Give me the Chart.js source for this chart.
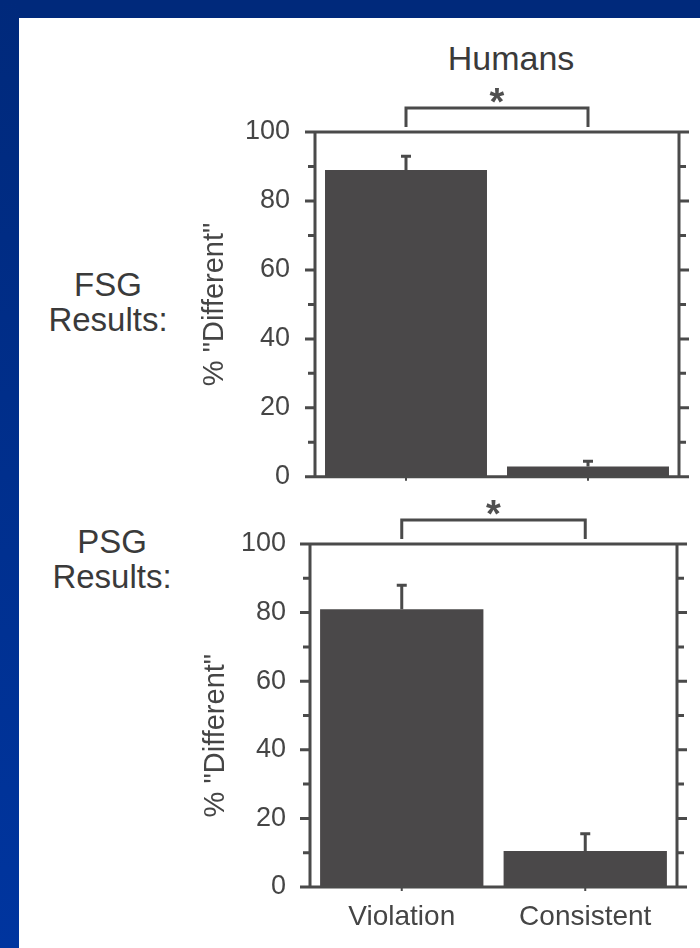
<!DOCTYPE html>
<html>
<head>
<meta charset="utf-8">
<script src="https://cdn.jsdelivr.net/npm/chart.js@4/dist/chart.umd.min.js"></script>
<style>
  html, body { margin: 0; padding: 0; }
  body { width: 700px; height: 948px; position: relative; overflow: hidden; background: #ffffff;
         font-family: "Liberation Sans", Arial, sans-serif; }
  #frameTop { position: absolute; left: 0; top: 0; width: 700px; height: 18px; background: #00297b; }
  #frameLeft { position: absolute; left: 0; top: 0; width: 19px; height: 948px;
               background: linear-gradient(#00297b, #00359f); }
  .lbl { position: absolute; color: #3a3a3a; text-align: center; white-space: nowrap; }
  #c1 { position: absolute; left: 0; top: 0; }
  #c2 { position: absolute; left: 0; top: 490px; }
</style>
</head>
<body>
<div id="frameTop"></div>
<div id="frameLeft"></div>
<div class="lbl" style="left:411px; top:41px; width:200px; font-size:34px; line-height:34px;">Humans</div>
<div class="lbl" style="left:8px; top:267px; width:200px; font-size:33px; line-height:35px;">FSG<br>Results:</div>
<div class="lbl" style="left:12px; top:524px; width:200px; font-size:33px; line-height:35px;">PSG<br>Results:</div>
<canvas id="c1" width="700" height="518"></canvas>
<canvas id="c2" width="700" height="458"></canvas>
<script>
// ---- data ----
const categories = ['Violation', 'Consistent'];
const fsgValues = [89, 3];
const fsgErrors = [4, 1.5];
const psgValues = [81, 10.5];
const psgErrors = [7, 5];
const yTitle = '% "Different"';
const significance = '*';

const FONT = '"Liberation Sans", Arial, sans-serif';
const INK = '#4a4a4a';
const BAR = '#4a4849';
const TEXT = '#454545';

function framePlugin(values, errors) {
  return {
    id: 'frame',
    afterDatasetsDraw(chart) {
      const { ctx, chartArea: a, scales: { x, y } } = chart;
      ctx.save();
      ctx.strokeStyle = INK;
      ctx.lineWidth = 3;
      ctx.lineCap = 'butt';
      // error bars
      const meta = chart.getDatasetMeta(0);
      meta.data.forEach((bar, i) => {
        const yt = y.getPixelForValue(values[i] + errors[i]);
        ctx.beginPath();
        ctx.moveTo(bar.x, bar.y);
        ctx.lineTo(bar.x, yt);
        ctx.moveTo(bar.x - 5, yt);
        ctx.lineTo(bar.x + 5, yt);
        ctx.stroke();
      });
      // frame box
      ctx.beginPath();
      ctx.moveTo(a.left - 10, a.top); ctx.lineTo(a.right + 10, a.top);
      ctx.moveTo(a.left - 10, a.bottom); ctx.lineTo(a.right + 10, a.bottom);
      ctx.moveTo(a.left, a.top); ctx.lineTo(a.left, a.bottom);
      ctx.moveTo(a.right, a.top); ctx.lineTo(a.right, a.bottom);
      ctx.stroke();
      // y ticks on both sides
      ctx.beginPath();
      y.ticks.forEach(t => {
        if (t.value <= y.min || t.value >= y.max) return;
        const py = y.getPixelForValue(t.value);
        const len = t.value % 20 === 0 ? 10 : 7;
        ctx.moveTo(a.left, py); ctx.lineTo(a.left - len, py);
        ctx.moveTo(a.right, py); ctx.lineTo(a.right + len, py);
      });
      ctx.stroke();
      // small x ticks at category centres
      ctx.lineWidth = 2;
      ctx.beginPath();
      categories.forEach((c, i) => {
        const px = x.getPixelForValue(i);
        ctx.moveTo(px, a.bottom); ctx.lineTo(px, a.bottom + 4);
      });
      ctx.stroke();
      // significance bracket
      const x0 = x.getPixelForValue(0), x1 = x.getPixelForValue(1);
      ctx.lineWidth = 3;
      ctx.beginPath();
      ctx.moveTo(x0, a.top - 5);
      ctx.lineTo(x0, a.top - 24);
      ctx.lineTo(x1, a.top - 24);
      ctx.lineTo(x1, a.top - 5);
      ctx.stroke();
      ctx.fillStyle = '#505050';
      ctx.font = 'bold 38px ' + FONT;
      ctx.textAlign = 'center';
      ctx.textBaseline = 'alphabetic';
      ctx.fillText(significance, (x0 + x1) / 2, a.top - 38 + 21);
      ctx.restore();
    }
  };
}

function makeChart(id, values, errors, cfg) {
  return new Chart(document.getElementById(id), {
    type: 'bar',
    data: {
      labels: categories,
      datasets: [{
        data: values,
        backgroundColor: BAR,
        borderWidth: 0,
        barPercentage: 0.89,
        categoryPercentage: 1
      }]
    },
    options: {
      responsive: false,
      animation: false,
      devicePixelRatio: 1,
      layout: { padding: cfg.padding },
      plugins: { legend: { display: false }, tooltip: { enabled: false } },
      scales: {
        x: {
          display: cfg.showX,
          grid: { display: false, drawTicks: false },
          border: { display: false },
          ticks: { font: { family: FONT, size: 28 }, color: TEXT, padding: 13, maxRotation: 0 },
          afterFit(s) { s.height = cfg.xHeight; }
        },
        y: {
          min: 0, max: 100,
          grid: { display: false, drawTicks: false },
          border: { display: false },
          ticks: {
            stepSize: 10, autoSkip: false, padding: cfg.tickPad,
            font: { family: FONT, size: 27 }, color: TEXT,
            callback: v => (v % 20 === 0 ? v : '')
          },
          title: {
            display: true, text: cfg.title,
            font: { family: FONT, size: 29 }, color: TEXT,
            padding: { top: cfg.titlePad, bottom: 0 }
          },
          afterFit(s) { s.width = 135; }
        }
      }
    },
    plugins: [framePlugin(values, errors)]
  });
}

makeChart('c1', fsgValues, fsgErrors, {
  padding: { left: 180, right: 21, top: 132, bottom: 0 },
  showX: false, xHeight: 0, tickPad: 25, titlePad: 18, title: yTitle
});
makeChart('c2', psgValues, psgErrors, {
  padding: { left: 175, right: 23, top: 54, bottom: 11 },
  showX: true, xHeight: 50, tickPad: 24, titlePad: 24,
  title: yTitle + '\u00a0\u00a0\u00a0\u00a0\u00a0'
});
</script>
</body>
</html>
